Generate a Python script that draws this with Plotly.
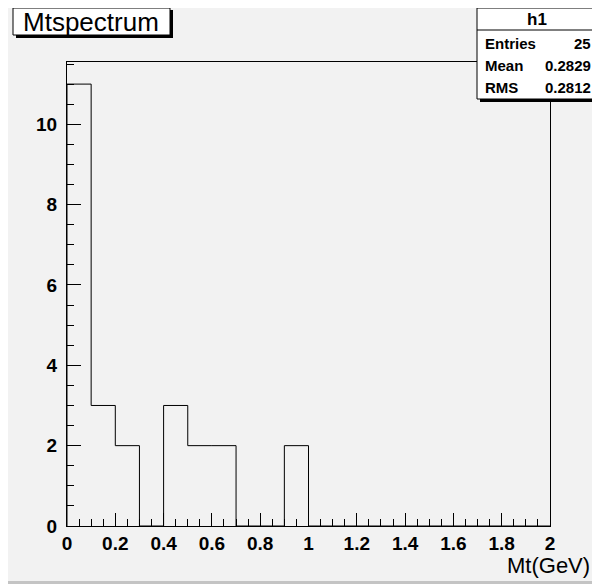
import plotly.graph_objects as go

# ---- data ----
bin_edges = [round(0.1 * i, 1) for i in range(21)]
counts = [11, 3, 2, 0, 3, 2, 2, 0, 0, 2, 0, 0, 0, 0, 0, 0, 0, 0, 0, 0]
hist_name = "h1"
title_text = "Mtspectrum"
x_title = "Mt(GeV)"
stat_labels = ["Entries", "Mean", "RMS"]
stat_values = ["25", "0.2829", "0.2812"]

OFF = 8  # page body margin
W, H = 592, 576
L, R, T, B = 59, 50, 54, 58
PW, PH = W - L - R, H - T - B


def fx(p):  # window pixel -> paper x
    return (p - OFF - L) / PW


def fy(p):  # window pixel -> paper y
    return (H - B - (p - OFF)) / PH


# step outline
xs = [bin_edges[0]] + bin_edges
ys = [0] + counts + [0]

fig = go.Figure()
fig.add_trace(go.Scatter(
    x=xs, y=ys, mode="lines", line=dict(color="black", width=1, shape="hv"),
    hoverinfo="skip", showlegend=False))

font_b = "Liberation Sans"
shapes = []
shapes.append(dict(type="rect", xref="paper", yref="paper", x0=fx(0), x1=fx(600), y0=fy(584), y1=fy(581),
                   fillcolor="#c4c4c4", line=dict(width=0), layer="below"))
# title box with shadow
shapes.append(dict(type="rect", xref="paper", yref="paper", x0=fx(16), x1=fx(173), y0=fy(38), y1=fy(10),
                   fillcolor="black", line=dict(width=0)))
shapes.append(dict(type="rect", xref="paper", yref="paper", x0=fx(13), x1=fx(170), y0=fy(35), y1=fy(8),
                   fillcolor="white", line=dict(color="black", width=1)))
# stats box with shadow
shapes.append(dict(type="rect", xref="paper", yref="paper", x0=fx(480), x1=fx(599), y0=fy(102), y1=fy(11),
                   fillcolor="black", line=dict(width=0)))
shapes.append(dict(type="rect", xref="paper", yref="paper", x0=fx(477), x1=fx(596), y0=fy(99), y1=fy(8),
                   fillcolor="white", line=dict(color="black", width=1)))
shapes.append(dict(type="line", xref="paper", yref="paper", x0=fx(477), x1=fx(596), y0=fy(30), y1=fy(30),
                   line=dict(color="black", width=1)))

annotations = []
annotations.append(dict(text=title_text, xref="paper", yref="paper", x=fx(91), y=fy(22),
                        xanchor="center", yanchor="middle", showarrow=False,
                        font=dict(family=font_b, size=26, color="black")))
annotations.append(dict(text="<b>%s</b>" % hist_name, xref="paper", yref="paper", x=fx(537), y=fy(19),
                        xanchor="center", yanchor="middle", showarrow=False,
                        font=dict(family=font_b, size=17, color="black")))
row_y = [43, 66, 88]
for lab, val, ry in zip(stat_labels, stat_values, row_y):
    annotations.append(dict(text="<b>%s</b>" % lab, xref="paper", yref="paper", x=fx(483), y=fy(ry),
                            xanchor="left", yanchor="middle", showarrow=False,
                            font=dict(family=font_b, size=15, color="black")))
    annotations.append(dict(text="<b>%s</b>" % val, xref="paper", yref="paper", x=fx(593), y=fy(ry),
                            xanchor="right", yanchor="middle", showarrow=False,
                            font=dict(family=font_b, size=15, color="black")))
annotations.append(dict(text=x_title, xref="paper", yref="paper", x=fx(592), y=fy(565),
                        xanchor="right", yanchor="middle", showarrow=False,
                        font=dict(family=font_b, size=22, color="black")))

fig.update_layout(
    width=W, height=H, margin=dict(l=L, r=R, t=T, b=B, pad=0),
    paper_bgcolor="#f2f2f2", plot_bgcolor="#f2f2f2",
    shapes=shapes, annotations=annotations, showlegend=False,
    xaxis=dict(range=[0, 2], tickmode="linear", tick0=0, dtick=0.2, ticks="inside", ticklen=13,
               tickwidth=1, tickcolor="black", showline=True, linecolor="black", linewidth=1,
               mirror=True, showgrid=False, zeroline=False,
               minor=dict(dtick=0.05, ticks="inside", ticklen=7, tickcolor="black", showgrid=False),
               tickfont=dict(family=font_b, size=19, color="black", weight="bold"),
               tickformat="~g"),
    yaxis=dict(range=[0, 11.55], tickmode="linear", tick0=0, dtick=2, ticks="inside", ticklen=14,
               tickwidth=1, tickcolor="black", showline=True, linecolor="black", linewidth=1,
               mirror=True, showgrid=False, zeroline=False, ticklabelstandoff=5,
               minor=dict(dtick=0.5, ticks="inside", ticklen=7, tickcolor="black", showgrid=False),
               tickfont=dict(family=font_b, size=19, color="black", weight="bold")),
)

fig.write_html("out.html")
